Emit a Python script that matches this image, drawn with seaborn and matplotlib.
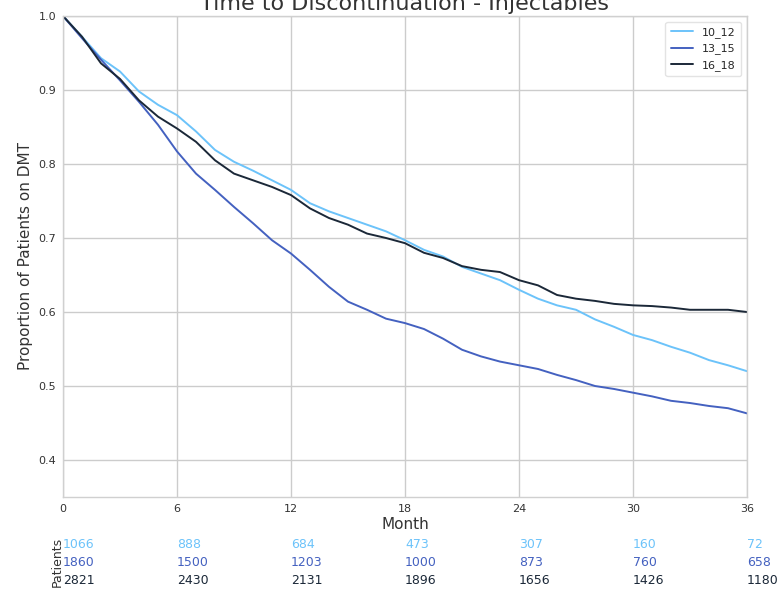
import numpy as np
import pandas as pd
import matplotlib
matplotlib.use("Agg")
import matplotlib.pyplot as plt
import matplotlib.transforms as mtransforms
import seaborn as sns

# Month grid for the survival estimates
months = list(range(0, 37))

# Proportion of patients still on DMT, by age group
prop_10_12 = [1.000, 0.972, 0.943, 0.925, 0.898, 0.880, 0.866, 0.844, 0.819, 0.803,
              0.791, 0.778, 0.765, 0.747, 0.736, 0.727, 0.718, 0.709, 0.697, 0.684,
              0.675, 0.661, 0.652, 0.643, 0.630, 0.618, 0.609, 0.603, 0.590, 0.580,
              0.569, 0.562, 0.553, 0.545, 0.535, 0.528, 0.520]
prop_13_15 = [1.000, 0.970, 0.941, 0.913, 0.884, 0.853, 0.817, 0.787, 0.765, 0.742,
              0.720, 0.697, 0.679, 0.657, 0.634, 0.614, 0.603, 0.591, 0.585, 0.577,
              0.564, 0.549, 0.540, 0.533, 0.528, 0.523, 0.515, 0.508, 0.500, 0.496,
              0.491, 0.486, 0.480, 0.477, 0.473, 0.470, 0.463]
prop_16_18 = [1.000, 0.972, 0.936, 0.915, 0.886, 0.864, 0.848, 0.830, 0.805, 0.787,
              0.778, 0.769, 0.758, 0.740, 0.727, 0.718, 0.706, 0.700, 0.693, 0.680,
              0.673, 0.662, 0.657, 0.654, 0.643, 0.636, 0.623, 0.618, 0.615, 0.611,
              0.609, 0.608, 0.606, 0.603, 0.603, 0.603, 0.600]

groups = ["10_12", "13_15", "16_18"]
colors = ["#6cc3fa", "#4461c0", "#1b2838"]

# Patients at risk at each tick
risk_months = [0, 6, 12, 18, 24, 30, 36]
at_risk_10_12 = [1066, 888, 684, 473, 307, 160, 72]
at_risk_13_15 = [1860, 1500, 1203, 1000, 873, 760, 658]
at_risk_16_18 = [2821, 2430, 2131, 1896, 1656, 1426, 1180]

df = pd.concat([
    pd.DataFrame({"Month": months, "Proportion": vals, "Group": g})
    for g, vals in zip(groups, [prop_10_12, prop_13_15, prop_16_18])
], ignore_index=True)

sns.set_theme(style="whitegrid")
plt.rcParams["font.family"] = ["DejaVu Sans"]

W, H = 779, 589
fig = plt.figure(figsize=(W / 100, H / 100), dpi=100)
ax = fig.add_axes([63 / W, 1 - 497 / H, (747 - 63) / W, (497 - 16) / H])

sns.lineplot(data=df, x="Month", y="Proportion", hue="Group",
             palette=dict(zip(groups, colors)), linewidth=1.4, ax=ax)

ax.set_xlim(0, 36)
ax.set_ylim(0.35, 1.0)
ax.set_xticks(risk_months)
ax.set_yticks([0.4, 0.5, 0.6, 0.7, 0.8, 0.9, 1.0])
ax.tick_params(axis="both", labelsize=8, colors="#333333", length=0, pad=5)
ax.set_xlabel("Month", fontsize=11, color="#333333", labelpad=2)
ax.set_ylabel("Proportion of Patients on DMT", fontsize=11, color="#333333")
ax.set_title("Time to Discontinuation - Injectables", fontsize=16,
             color="#333333", pad=4)
for s in ax.spines.values():
    s.set_color("#d0d0d0")
    s.set_linewidth(1.0)

leg = ax.legend(loc="upper right", fontsize=8, frameon=True, title=None,
                handlelength=2.0, borderpad=0.5)
leg.get_frame().set_edgecolor("#dddddd")

# At-risk table below the axis
trans = mtransforms.blended_transform_factory(ax.transData, fig.transFigure)
row_y = [1 - 544 / H, 1 - 563 / H, 1 - 580 / H]
for counts, col, yy in zip([at_risk_10_12, at_risk_13_15, at_risk_16_18], colors, row_y):
    for m, c in zip(risk_months, counts):
        ax.text(m, yy, str(c), transform=trans, ha="left", va="center",
                fontsize=9, color=col, clip_on=False)
fig.text(57 / W, 1 - 562 / H, "Patients", rotation=90, ha="center", va="center",
         fontsize=9, color="#333333")

fig.savefig("out.png", dpi=100)
